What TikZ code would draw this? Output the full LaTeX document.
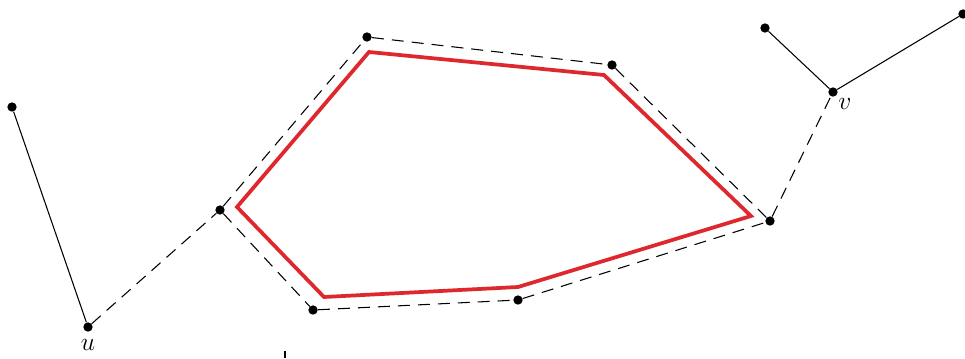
\documentclass[tikz,border=0pt]{standalone}
\usepackage{graphicx}
\begin{document}
\begin{tikzpicture}[x=0.75pt,y=-0.75pt,
  dot/.style={circle,fill=black,inner sep=0pt,minimum size=7pt},
  lbl/.style={font=\large,inner sep=0pt},
  solidedge/.style={line width=0.8pt,black},
  dashedge/.style={line width=0.8pt,black,dash pattern=on 9pt off 6pt},
  redpoly/.style={line width=2.8pt,draw={rgb,255:red,222;green,40;blue,45},line join=miter}]
\useasboundingbox (0,0) rectangle (965,358);
% vertices
\node[dot] (a) at (12,107) {};
\node[dot] (u) at (88,327) {};
\node[dot] (p1) at (220,210) {};
\node[dot] (p2) at (367,37) {};
\node[dot] (p3) at (612,65) {};
\node[dot] (p4) at (770,221) {};
\node[dot] (p5) at (518,300) {};
\node[dot] (p6) at (313,310) {};
\node[dot] (v) at (833,92) {};
\node[dot] (b) at (765,28) {};
\node[dot] (c) at (963,14) {};
\node[lbl] (ul) at (88,345) {\scalebox{1.6}{$u$}};
\node[lbl] (vl) at (845,104) {\scalebox{1.6}{$v$}};
% red polygon
\coordinate (r1) at (237,207);
\coordinate (r2) at (369,52);
\coordinate (r3) at (604,75);
\coordinate (r4) at (751,216);
\coordinate (r5) at (518,287);
\coordinate (r6) at (324,297);
\draw[redpoly] (r1) -- (r2) -- (r3) -- (r4) -- (r5) -- (r6) -- cycle;
% edges
\draw[solidedge] (a) -- (u);
\draw[solidedge] (b) -- (v) -- (c);
\draw[dashedge] (u) -- (p1) -- (p2) -- (p3) -- (p4) -- (v);
\draw[dashedge] (p1) -- (p6) -- (p5) -- (p4);
\coordinate (t1) at (285,351);
\coordinate (t2) at (285,358);
\draw[solidedge] (t1) -- (t2);
\end{tikzpicture}
\end{document}
